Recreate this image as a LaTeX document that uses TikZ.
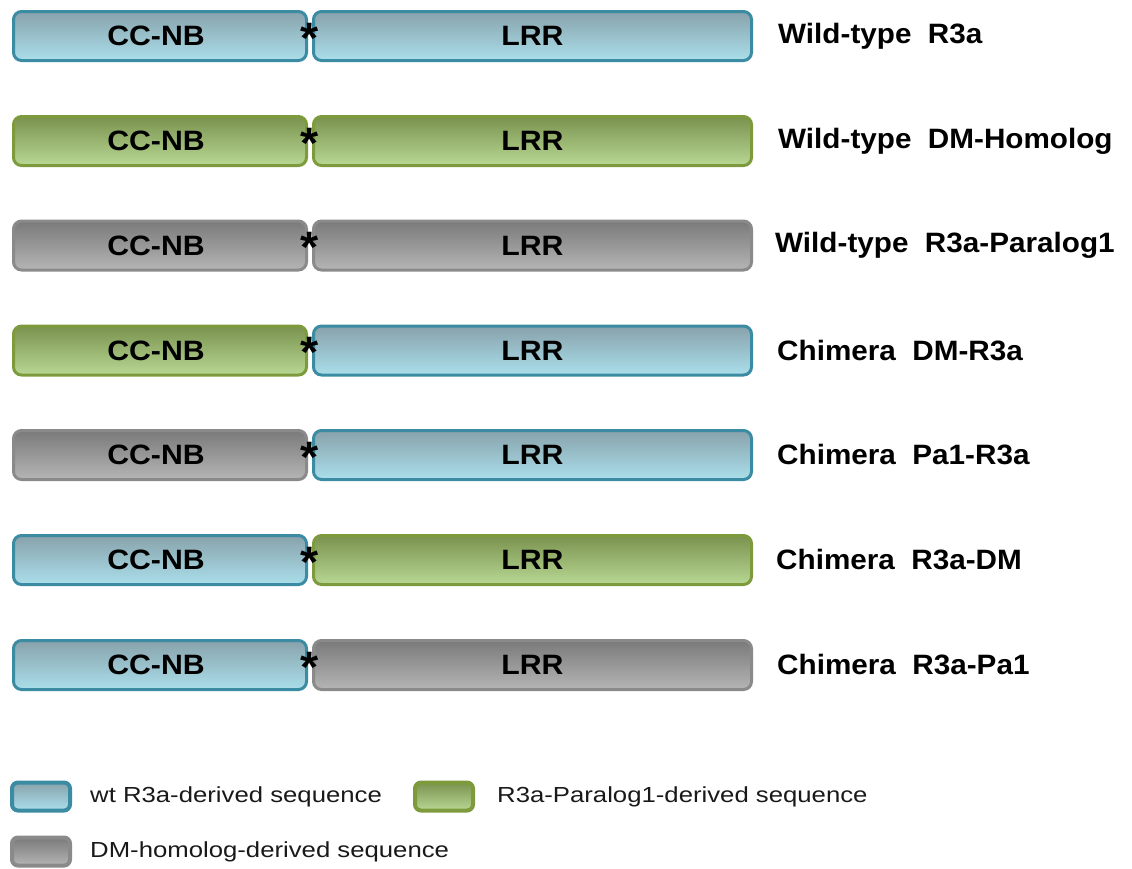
\documentclass[tikz,border=0pt]{standalone}
\usepackage{fontspec}
\setmainfont{Liberation Sans}
\newfontfamily\lblfont[FakeStretch=1.06]{Liberation Sans Bold}
\newfontfamily\segfont[FakeStretch=1.08]{Liberation Sans Bold}
\newfontfamily\legfont[FakeStretch=1.18]{Liberation Sans}
\definecolor{bluetop}{HTML}{88A2AB}
\definecolor{bluebot}{HTML}{AADFEB}
\definecolor{bluebd}{HTML}{3B8BA3}
\definecolor{greentop}{HTML}{7A934F}
\definecolor{greenbot}{HTML}{B8D893}
\definecolor{greenbd}{HTML}{7D9B3C}
\definecolor{graytop}{HTML}{7A7A7A}
\definecolor{graybot}{HTML}{B5B5B5}
\definecolor{graybd}{HTML}{8A8A8A}
\tikzset{
  seg/.style={rounded corners=8pt, line width=3pt, minimum height=49pt, inner sep=0pt,
    font=\segfont\fontsize{28}{30}\selectfont},
  ccnb/.style={seg, minimum width=293pt},
  lrr/.style={seg, minimum width=438pt},
  bl/.style={draw=bluebd, top color=bluetop, bottom color=bluebot},
  gr/.style={draw=greenbd, top color=greentop, bottom color=greenbot},
  gy/.style={draw=graybd, top color=graytop, bottom color=graybot},
  rowlabel/.style={anchor=west, inner sep=0pt, font=\lblfont\fontsize{28}{30}\selectfont},
  asterisk/.style={anchor=base, inner sep=0pt, font=\lblfont\fontsize{44}{46}\selectfont},
  legbox/.style={rounded corners=6pt, line width=4pt, minimum width=58pt, minimum height=28pt, inner sep=0pt},
  legtext/.style={anchor=west, inner sep=0pt, text=black!90, font=\legfont\fontsize{21.8}{24}\selectfont}
}
\begin{document}
\begin{tikzpicture}[x=1pt,y=-1pt]
\useasboundingbox (0,0) rectangle (1132,868);
% rows
\foreach \i/\y/\ca/\cb/\lab/\lx in {
  1/36/bl/bl/{Wild-type\ \ R3a}/778,
  2/141/gr/gr/{Wild-type\ \ DM-Homolog}/778,
  3/245.5/gy/gy/{Wild-type\ \ R3a-Paralog1}/775,
  4/350.5/gr/bl/{Chimera\ \ DM-R3a}/777,
  5/455/gy/bl/{Chimera\ \ Pa1-R3a}/777,
  6/560/bl/gr/{Chimera\ \ R3a-DM}/776,
  7/665/bl/gy/{Chimera\ \ R3a-Pa1}/777}{
  \node[ccnb,\ca] (cc\i) at (160,\y) {\hspace*{-8pt}CC-NB};
  \node[lrr,\cb] (lrr\i) at (532.5,\y) {LRR};
  \node[asterisk] (star\i) at (310,\y+17) {*};
  \node[rowlabel] (lab\i) at (\lx,\y) {\lab};
}
% legend
\node[legbox,bl] (leg1) at (41,796.5) {};
\node[legtext] (legt1) at (90,797) {wt R3a-derived sequence};
\node[legbox,gr] (leg2) at (444,796.5) {};
\node[legtext] (legt2) at (497,797) {R3a-Paralog1-derived sequence};
\node[legbox,gy] (leg3) at (41,851.5) {};
\node[legtext] (legt3) at (90,852) {DM-homolog-derived sequence};
\end{tikzpicture}
\end{document}
